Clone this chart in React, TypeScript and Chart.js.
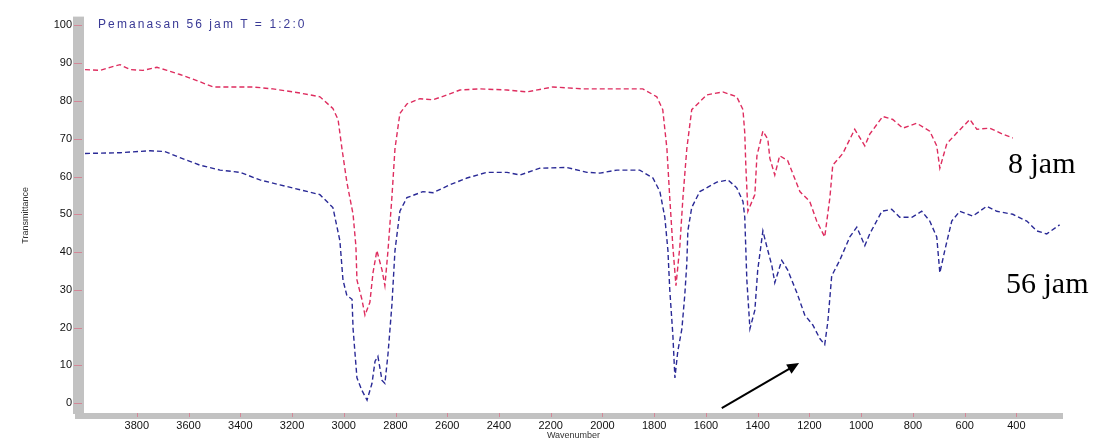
import React, { useEffect, useRef } from "react";
import { Chart, registerables } from "chart.js";

Chart.register(...registerables);

// FTIR spectra: wavenumber (cm-1) vs transmittance (%)
const wavenumbers8 = [
  4000, 3942, 3903, 3865, 3826, 3776, 3722, 3683, 3633, 3583, 3505, 3428, 3351, 3274, 3169, 3092,
  3042, 3022, 3007, 2988, 2964, 2953, 2949, 2930, 2918, 2899, 2887, 2872, 2852, 2841, 2829, 2814,
  2802, 2783, 2756, 2706, 2655, 2601, 2551, 2474, 2369, 2292, 2192, 2076, 1983, 1844, 1790, 1767,
  1751, 1740, 1728, 1716, 1701, 1689, 1674, 1655, 1597, 1535, 1481, 1457, 1450, 1446, 1438, 1411,
  1403, 1380, 1361, 1353, 1334, 1315, 1284, 1237, 1199, 1172, 1141, 1121, 1110, 1071, 1025, 986,
  967, 917, 878, 839, 785, 735, 708, 696, 669, 631, 580, 553, 503, 453, 414,
];
const transmittance8 = [
  88.3, 88.1, 88.9, 89.6, 88.3, 88.1, 88.9, 88.1, 87.0, 85.8, 83.7, 83.7, 83.7, 83.2, 82.1, 81.1,
  78.0, 75.1, 67.4, 58.5, 50.0, 41.5, 32.6, 27.5, 23.3, 26.7, 34.5, 40.4, 35.2, 31.1, 40.4, 54.4,
  67.4, 76.7, 79.2, 80.6, 80.3, 81.6, 82.9, 83.2, 82.9, 82.4, 83.7, 83.2, 83.2, 83.2, 81.1, 77.7,
  67.4, 54.4, 41.5, 31.1, 41.5, 54.4, 67.4, 77.7, 81.6, 82.4, 81.1, 77.7, 71.5, 63.0, 50.8, 55.2,
  65.5, 72.0, 69.9, 64.8, 60.4, 65.5, 64.2, 56.0, 53.4, 48.2, 44.0, 54.4, 63.0, 66.1, 72.5, 68.1,
  71.2, 75.9, 75.1, 72.8, 74.1, 72.0, 68.1, 62.2, 68.7, 71.5, 75.1, 72.5, 72.8, 71.2, 70.2,
];

const wavenumbers56 = [
  4000, 3865, 3749, 3691, 3633, 3556, 3478, 3401, 3324, 3247, 3169, 3092, 3042, 3015, 3003, 2988,
  2968, 2964, 2949, 2930, 2910, 2891, 2879, 2868, 2852, 2841, 2829, 2814, 2802, 2783, 2756, 2694,
  2655, 2590, 2524, 2447, 2369, 2319, 2242, 2138, 2060, 2010, 1944, 1856, 1805, 1778, 1759, 1747,
  1740, 1728, 1720, 1709, 1693, 1682, 1674, 1670, 1655, 1624, 1558, 1515, 1481, 1457, 1450, 1442,
  1430, 1411, 1400, 1380, 1365, 1345, 1334, 1307, 1284, 1249, 1218, 1187, 1160, 1141, 1129, 1114,
  1083, 1044, 1017, 986, 967, 920, 882, 851, 804, 766, 735, 708, 696, 677, 650, 619, 569, 515, 476,
  414, 360, 321, 283, 233,
];
const transmittance56 = [
  66.1, 66.3, 66.8, 66.6, 65.0, 63.0, 61.7, 61.1, 59.1, 57.8, 56.5, 55.2, 51.8, 43.0, 32.6, 28.5,
  27.5, 19.7, 6.7, 3.4, 0.8, 5.2, 11.1, 12.4, 6.0, 5.2, 13.0, 25.9, 40.4, 50.8, 54.4, 56.0,
  55.7, 57.8, 59.6, 61.1, 61.1, 60.4, 62.2, 62.4, 61.1, 60.9, 61.7, 61.7, 59.6, 56.0, 49.2, 40.4,
  30.1, 18.1, 6.7, 13.7, 19.7, 28.5, 37.0, 45.6, 51.8, 56.0, 58.5, 59.1, 57.0, 53.4, 49.2, 32.6,
  19.7, 24.6, 35.2, 45.6, 41.5, 36.3, 31.9, 37.8, 35.2, 29.3, 23.3, 20.7, 17.1, 15.5, 21.5, 33.7,
  37.8, 44.0, 46.6, 41.7, 44.8, 50.8, 51.3, 49.2, 49.2, 50.8, 48.2, 44.0, 34.5, 40.4, 48.2, 50.8, 49.5, 52.1, 50.8,
  50.0, 48.2, 45.6, 44.8, 47.2,
];

const xTickValues = [3800, 3600, 3400, 3200, 3000, 2800, 2600, 2400, 2200, 2000, 1800, 1600, 1400, 1200, 1000, 800, 600, 400];
const yTickValues = [0, 10, 20, 30, 40, 50, 60, 70, 80, 90, 100];

const seriesNames = ["8 jam", "56 jam"];
const headerText = "Pemanasan 56 jam T = 1:2:0";
const xTitle = "Wavenumber";
const yTitle = "Transmittance";

// arrow pointing at the broad band near 1140 cm-1 (tail, head in data units)
const arrowTail = { x: 1539, y: -1.3 };
const arrowHead = { x: 1240, y: 10.6 };

const RED = "rgb(222, 45, 95)";
const BLUE = "rgb(42, 42, 150)";

const toPoints = (xs: number[], ys: number[]) => xs.map((x, i) => ({ x, y: ys[i] }));

const axisFrame = {
  id: "axisFrame",
  beforeDraw(chart: any) {
    const { ctx, chartArea } = chart;
    const { left, right, top, bottom } = chartArea;
    const xs = chart.scales.x;
    const ys = chart.scales.y;
    ctx.save();
    ctx.fillStyle = "#c2c2c2";
    ctx.fillRect(left - 11, top - 2, 11, bottom - top + 4);
    ctx.fillRect(left - 9, bottom + 1, right - left + 9, 6);
    ctx.strokeStyle = "rgba(215, 120, 140, 0.8)";
    ctx.lineWidth = 1;
    yTickValues.forEach((v) => {
      const py = Math.round(ys.getPixelForValue(v)) + 0.5;
      ctx.beginPath();
      ctx.moveTo(left - 10, py);
      ctx.lineTo(left - 2, py);
      ctx.stroke();
    });
    xTickValues.forEach((v) => {
      const px = Math.round(xs.getPixelForValue(v)) + 0.5;
      ctx.beginPath();
      ctx.moveTo(px, bottom + 1);
      ctx.lineTo(px, bottom + 5);
      ctx.stroke();
    });
    ctx.restore();
  },
  afterDraw(chart: any) {
    const { ctx } = chart;
    const xs = chart.scales.x;
    const ys = chart.scales.y;
    const x0 = xs.getPixelForValue(arrowTail.x);
    const y0 = ys.getPixelForValue(arrowTail.y);
    const x1 = xs.getPixelForValue(arrowHead.x);
    const y1 = ys.getPixelForValue(arrowHead.y);
    const ang = Math.atan2(y1 - y0, x1 - x0);
    const len = 13;
    const spread = 0.42;
    ctx.save();
    ctx.strokeStyle = "#000";
    ctx.fillStyle = "#000";
    ctx.lineWidth = 2;
    ctx.beginPath();
    ctx.moveTo(x0, y0);
    ctx.lineTo(x1 - Math.cos(ang) * 8, y1 - Math.sin(ang) * 8);
    ctx.stroke();
    ctx.beginPath();
    ctx.moveTo(x1, y1);
    ctx.lineTo(x1 - len * Math.cos(ang - spread), y1 - len * Math.sin(ang - spread));
    ctx.lineTo(x1 - len * Math.cos(ang + spread), y1 - len * Math.sin(ang + spread));
    ctx.closePath();
    ctx.fill();
    ctx.restore();
  },
};

export default function App() {
  const canvasRef = useRef<HTMLCanvasElement | null>(null);

  useEffect(() => {
    const canvas = canvasRef.current;
    if (!canvas) return;
    const chart = new Chart(canvas, {
      type: "line",
      data: {
        datasets: [
          {
            label: seriesNames[0],
            data: toPoints(wavenumbers8, transmittance8),
            borderColor: RED,
            borderWidth: 1.4,
            borderDash: [5, 3],
            pointRadius: 0,
            tension: 0,
            fill: false,
          },
          {
            label: seriesNames[1],
            data: toPoints(wavenumbers56, transmittance56),
            borderColor: BLUE,
            borderWidth: 1.4,
            borderDash: [5, 3],
            pointRadius: 0,
            tension: 0,
            fill: false,
          },
        ],
      },
      options: {
        responsive: false,
        animation: false,
        parsing: false as any,
        layout: { padding: { left: 0, top: 12, right: 42, bottom: 0 } },
        plugins: { legend: { display: false }, tooltip: { enabled: false } },
        scales: {
          x: {
            type: "linear",
            reverse: true,
            min: 220,
            max: 4004,
            grid: { display: false, drawTicks: false },
            border: { display: false },
            afterBuildTicks: (axis: any) => {
              axis.ticks = xTickValues.map((value) => ({ value }));
            },
            afterFit: (scale: any) => {
              scale.height = 31;
            },
            ticks: {
              padding: 7,
              autoSkip: false,
              maxRotation: 0,
              color: "#111",
              font: { family: "Liberation Sans, Arial, sans-serif", size: 11 },
              callback: (v: any) => String(v),
            },
            title: {
              display: true,
              text: xTitle,
              color: "#333",
              padding: { top: 0, bottom: 2 },
              font: { family: "Liberation Sans, Arial, sans-serif", size: 9 },
            },
          },
          y: {
            type: "linear",
            min: -2.34,
            max: 101.8,
            grid: { display: false, drawTicks: false },
            border: { display: false },
            afterBuildTicks: (axis: any) => {
              axis.ticks = yTickValues.map((value) => ({ value }));
            },
            afterFit: (scale: any) => {
              scale.width = 84;
            },
            ticks: {
              padding: 12,
              color: "#111",
              font: { family: "Liberation Sans, Arial, sans-serif", size: 11 },
              callback: (v: any) => String(v),
            },
            title: {
              display: true,
              text: yTitle,
              color: "#333",
              padding: { top: 20, bottom: 0 },
              font: { family: "Liberation Sans, Arial, sans-serif", size: 9 },
            },
          },
        },
      },
      plugins: [axisFrame],
    });
    return () => chart.destroy();
  }, []);

  const serif = "'Liberation Serif', 'Times New Roman', serif";

  return (
    <div style={{ position: "absolute", left: 0, top: 0, width: 1105, height: 443, background: "#fff", overflow: "hidden" }}>
      <canvas ref={canvasRef} width={1105} height={443} style={{ display: "block" }} />
      <div
        style={{
          position: "absolute",
          left: 98,
          top: 17,
          fontFamily: "Liberation Sans, Arial, sans-serif",
          fontSize: 12,
          letterSpacing: 2.1,
          color: "#3a3a96",
          whiteSpace: "nowrap",
        }}
      >
        {headerText}
      </div>
      <div style={{ position: "absolute", left: 1008, top: 145, fontFamily: serif, fontSize: 30, color: "#000", whiteSpace: "nowrap", lineHeight: "36px" }}>
        {seriesNames[0]}
      </div>
      <div style={{ position: "absolute", left: 1006, top: 265, fontFamily: serif, fontSize: 30, color: "#000", whiteSpace: "nowrap", lineHeight: "36px" }}>
        {seriesNames[1]}
      </div>
    </div>
  );
}
